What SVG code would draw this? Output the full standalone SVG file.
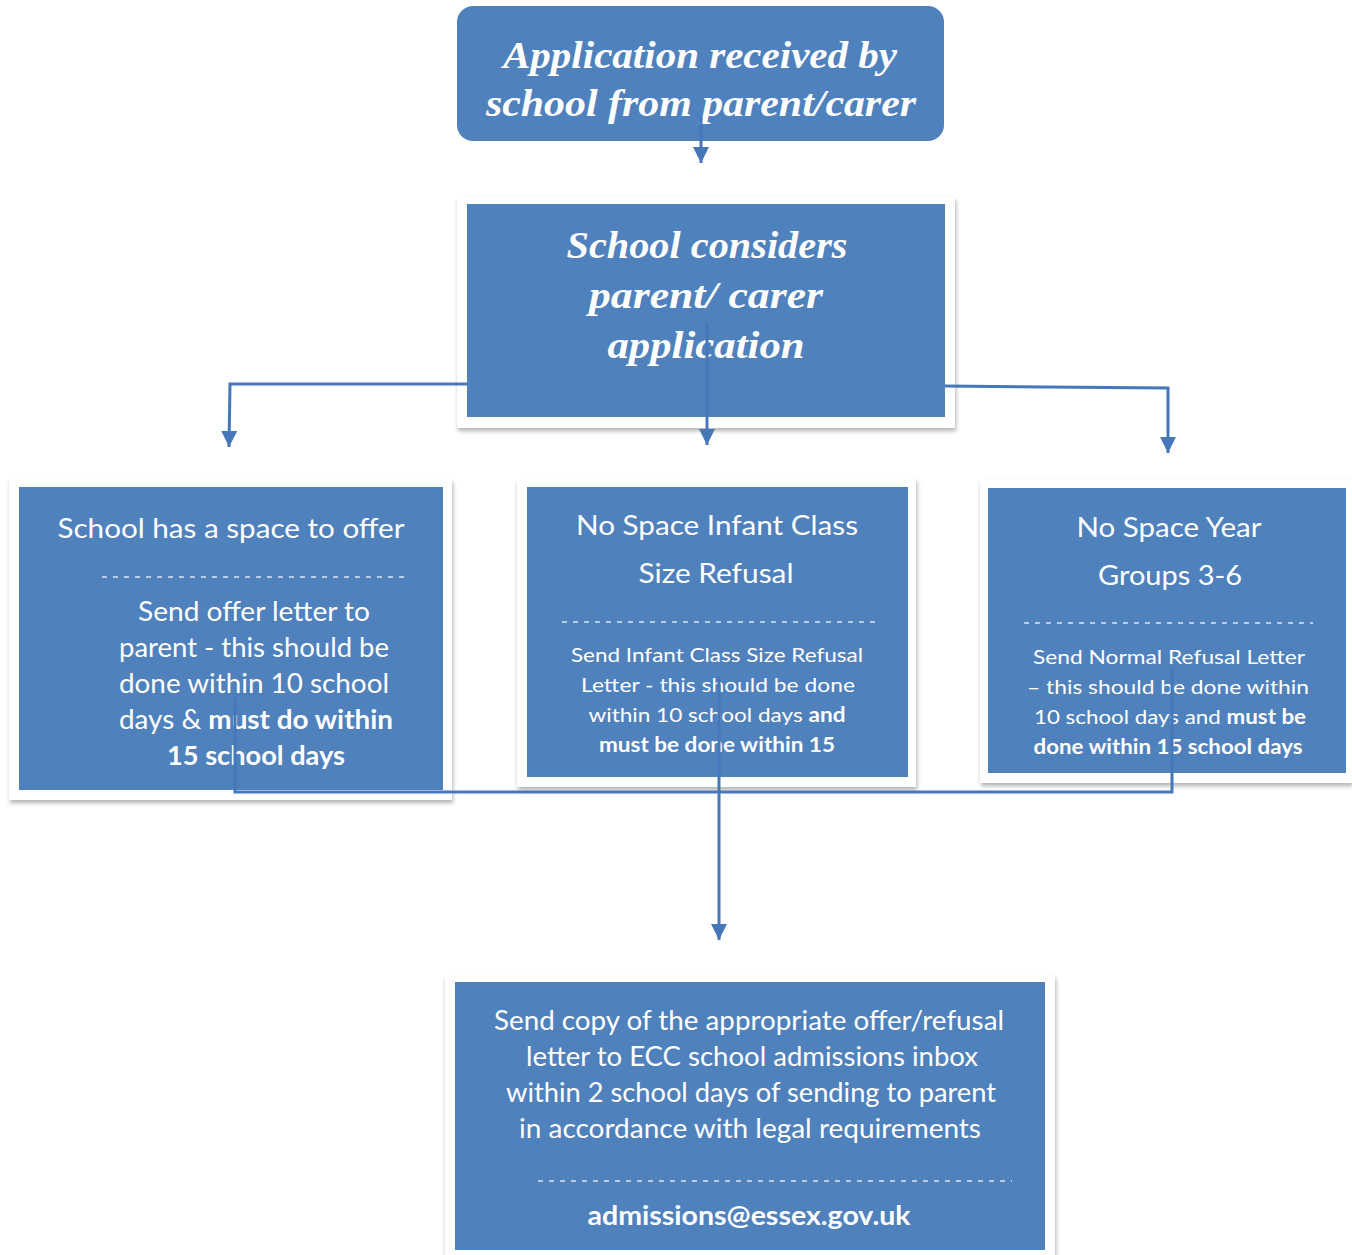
<svg xmlns="http://www.w3.org/2000/svg" width="1352" height="1255" viewBox="0 0 1352 1255">
<style>
.blue{fill:#4f81bd}
.frame{fill:#ffffff;filter:url(#sh)}
.ser{font-family:"Liberation Serif","DejaVu Serif",serif;font-style:italic;font-weight:bold;fill:#ffffff;font-size:37px}
.sans{font-family:Lato,"Liberation Sans","DejaVu Sans",sans-serif;fill:#ffffff}
.t26{font-size:26px}
.t20{font-size:20px}
.b{font-weight:bold}
.dash{stroke:#dce6f2;stroke-width:1.5;stroke-dasharray:5 6;fill:none}
.con{stroke:#4677b8;stroke-width:3;fill:none}
</style>
<defs>
<filter id="sh" x="-5%" y="-5%" width="110%" height="115%">
<feDropShadow dx="1" dy="3" stdDeviation="2" flood-color="#000" flood-opacity="0.3"/>
</filter>
<marker id="ah" markerUnits="userSpaceOnUse" markerWidth="18" markerHeight="18" refX="16" refY="8" orient="auto">
<path d="M0,0 L16,8 L0,16 Z" fill="#4677b8"/>
</marker>
</defs>

<g id="node-received">
<rect x="457" y="6" width="487" height="135" rx="16" class="blue"/>
<text class="ser" x="700" y="68" text-anchor="middle" textLength="394" lengthAdjust="spacingAndGlyphs">Application received by</text>
<text class="ser" x="701" y="116" text-anchor="middle" textLength="430" lengthAdjust="spacingAndGlyphs">school from parent/carer</text>
</g>

<g id="node-considers">
<rect x="457" y="197" width="498" height="231" class="frame"/>
<rect x="467" y="204" width="478" height="213" class="blue"/>
<text class="ser" x="707" y="258" text-anchor="middle" textLength="281" lengthAdjust="spacingAndGlyphs">School considers</text>
<text class="ser" x="706" y="308" text-anchor="middle" textLength="234" lengthAdjust="spacingAndGlyphs">parent/ carer</text>
<text class="ser" x="706" y="358" text-anchor="middle" textLength="197" lengthAdjust="spacingAndGlyphs">application</text>
</g>

<g id="node-offer">
<rect x="9" y="479" width="443" height="321" class="frame"/>
<rect x="19" y="487" width="424" height="303" class="blue"/>
<text class="sans t26" x="231" y="538" text-anchor="middle" textLength="347" lengthAdjust="spacingAndGlyphs">School  has a space to offer</text>
<line class="dash" x1="102" y1="577" x2="407" y2="577"/>
<text class="sans t26" x="254" y="621" text-anchor="middle" textLength="232" lengthAdjust="spacingAndGlyphs">Send offer letter to</text>
<text class="sans t26" x="254" y="657" text-anchor="middle" textLength="270" lengthAdjust="spacingAndGlyphs">parent - this should be</text>
<text class="sans t26" x="254" y="693" text-anchor="middle" textLength="270" lengthAdjust="spacingAndGlyphs">done within 10  school</text>
<text class="sans t26" x="256" y="729" text-anchor="middle" textLength="274" lengthAdjust="spacingAndGlyphs">days &amp; <tspan class="b">must do within</tspan></text>
<text class="sans t26 b" x="256" y="765" text-anchor="middle" textLength="178" lengthAdjust="spacingAndGlyphs">15 school days</text>
</g>

<g id="node-infant">
<rect x="517" y="478" width="399" height="309" class="frame"/>
<rect x="527" y="487" width="381" height="290" class="blue"/>
<text class="sans t26" x="717" y="535" text-anchor="middle" textLength="282" lengthAdjust="spacingAndGlyphs">No Space Infant Class</text>
<text class="sans t26" x="716" y="583" text-anchor="middle" textLength="155" lengthAdjust="spacingAndGlyphs">Size Refusal</text>
<line class="dash" x1="562" y1="622" x2="875" y2="622"/>
<text class="sans t20" x="717" y="662" text-anchor="middle" textLength="292" lengthAdjust="spacingAndGlyphs">Send Infant Class Size Refusal</text>
<text class="sans t20" x="718" y="692" text-anchor="middle" textLength="274" lengthAdjust="spacingAndGlyphs">Letter - this should be done</text>
<text class="sans t20" x="717" y="722" text-anchor="middle" textLength="257" lengthAdjust="spacingAndGlyphs">within 10 school days <tspan class="b">and</tspan></text>
<text class="sans t20 b" x="717" y="752" text-anchor="middle" textLength="236" lengthAdjust="spacingAndGlyphs">must be done within 15</text>
</g>

<g id="node-year">
<rect x="980" y="480" width="372" height="303" class="frame"/>
<rect x="988" y="488" width="358" height="285" class="blue"/>
<text class="sans t26" x="1169" y="537" text-anchor="middle" textLength="185" lengthAdjust="spacingAndGlyphs">No Space Year</text>
<text class="sans t26" x="1170" y="585" text-anchor="middle" textLength="144" lengthAdjust="spacingAndGlyphs">Groups  3-6</text>
<line class="dash" x1="1024" y1="623" x2="1313" y2="623"/>
<text class="sans t20" x="1169" y="664" text-anchor="middle" textLength="272" lengthAdjust="spacingAndGlyphs">Send Normal Refusal Letter</text>
<text class="sans t20" x="1168" y="694" text-anchor="middle" textLength="282" lengthAdjust="spacingAndGlyphs">– this should be done within</text>
<text class="sans t20" x="1170" y="724" text-anchor="middle" textLength="272" lengthAdjust="spacingAndGlyphs">10 school days and <tspan class="b">must be</tspan></text>
<text class="sans t20 b" x="1168" y="754" text-anchor="middle" textLength="269" lengthAdjust="spacingAndGlyphs">done within 15 school days</text>
</g>

<g id="node-copy">
<rect x="445" y="975" width="610" height="285" class="frame"/>
<rect x="455" y="982" width="590" height="268" class="blue"/>
<text class="sans t26" x="749" y="1030" text-anchor="middle" textLength="510" lengthAdjust="spacingAndGlyphs">Send copy of the appropriate offer/refusal</text>
<text class="sans t26" x="752" y="1066" text-anchor="middle" textLength="452" lengthAdjust="spacingAndGlyphs">letter to ECC school admissions inbox</text>
<text class="sans t26" x="751" y="1102" text-anchor="middle" textLength="490" lengthAdjust="spacingAndGlyphs">within 2 school days of sending to parent</text>
<text class="sans t26" x="750" y="1138" text-anchor="middle" textLength="462" lengthAdjust="spacingAndGlyphs">in accordance with legal requirements</text>
<line class="dash" x1="538" y1="1181" x2="1012" y2="1181"/>
<text class="sans t26 b" x="749" y="1225" text-anchor="middle" textLength="323" lengthAdjust="spacingAndGlyphs">admissions@essex.gov.uk</text>
</g>

<g id="connectors">
<line class="con" x1="701" y1="118" x2="701" y2="163" marker-end="url(#ah)"/>
<polyline class="con" points="467,384 230,384 229,447" marker-end="url(#ah)"/>
<polyline class="con" points="945,386 1168,388 1168,453" marker-end="url(#ah)"/>
<line class="con" x1="707" y1="324" x2="707" y2="445" marker-end="url(#ah)"/>
<polyline class="con" points="235,697 235,792 1172,792 1172,668"/>
<line class="con" x1="719" y1="676" x2="719" y2="940" marker-end="url(#ah)"/>
</g>
</svg>
